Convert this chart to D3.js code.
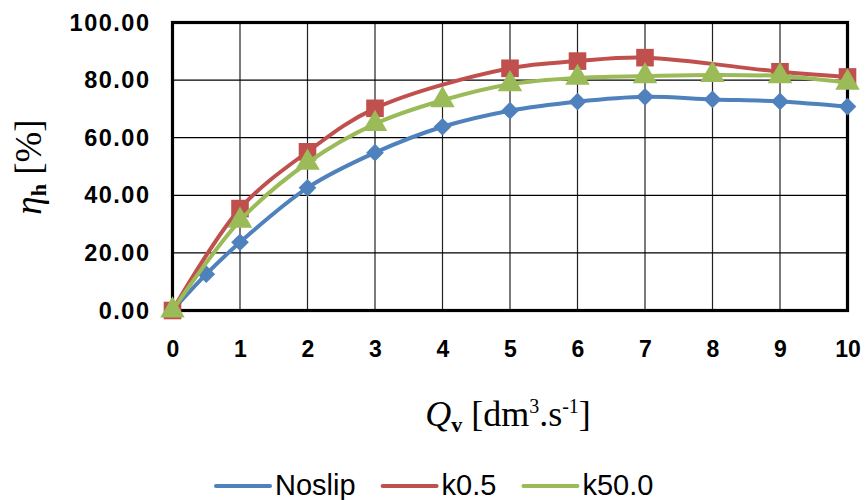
<!DOCTYPE html>
<html>
<head>
<meta charset="utf-8">
<script src="https://cdn.jsdelivr.net/npm/d3@7/dist/d3.min.js"></script>
<style>
  html, body { margin: 0; padding: 0; background: #fff; }
  svg { display: block; }
</style>
</head>
<body>
<svg id="chart" width="866" height="500"></svg>
<script>
// ---- data ----
const seriesNames = ["Noslip", "k0.5", "k50.0"];
const xNoslip = [0, 0.5, 1, 2, 3, 4, 5, 6, 7, 8, 9, 10];
const yNoslip = [0, 12.6, 23.7, 42.6, 54.8, 63.8, 69.4, 72.5, 74.2, 73.3, 72.6, 70.8];
const xK05 = [0, 1, 2, 3, 5, 6, 7, 9, 10];
const yK05 = [0, 35.4, 55.1, 70.2, 84.1, 86.6, 87.8, 82.9, 81.1];
const xK50 = [0, 1, 2, 3, 4, 5, 6, 7, 8, 9, 10];
const yK50 = [0, 31.2, 51.3, 64.8, 73.0, 78.6, 80.8, 81.4, 81.8, 81.4, 79.1];
const xTicks = [0, 1, 2, 3, 4, 5, 6, 7, 8, 9, 10];
const yTicks = [0, 20, 40, 60, 80, 100];

(function () {
const colors = ["#4F81BD", "#C0504D", "#9BBB59"];
const symbols = [d3.symbolDiamond2, d3.symbolSquare, d3.symbolTriangle];

const series = [
  { name: seriesNames[0], pts: xNoslip.map((v, i) => [v, yNoslip[i]]) },
  { name: seriesNames[1], pts: xK05.map((v, i) => [v, yK05[i]]) },
  { name: seriesNames[2], pts: xK50.map((v, i) => [v, yK50[i]]) }
];

// ---- layout ----
const svg = d3.select("#chart");
const pL = 172.5, pR = 847.5, pT = 22.5, pB = 310.5;
const x = d3.scaleLinear().domain([0, 10]).range([pL, pR]);
const y = d3.scaleLinear().domain([0, 100]).range([pB, pT]);

// gridlines
const grid = svg.append("g");
grid.selectAll("line.v").data(xTicks.slice(1, -1)).enter().append("line")
  .attr("x1", d => x(d)).attr("x2", d => x(d))
  .attr("y1", pT).attr("y2", pB)
  .attr("stroke", "#222").attr("stroke-width", 1.2);
grid.selectAll("line.h").data(yTicks.slice(1, -1)).enter().append("line")
  .attr("x1", pL).attr("x2", pR)
  .attr("y1", d => y(d)).attr("y2", d => y(d))
  .attr("stroke", "#000").attr("stroke-width", 1.2);

// axes with d3 axis (labels), hide domain/ticks
const yAxis = svg.append("g").attr("transform", `translate(${pL - 22},0)`)
  .call(d3.axisLeft(y).tickValues(yTicks).tickFormat(d3.format(".2f")).tickSize(0).tickPadding(0));
yAxis.select(".domain").remove();
yAxis.selectAll("text")
  .attr("font-family", "'Liberation Sans', Arial, sans-serif")
  .attr("font-weight", "bold").attr("font-size", 23.5)
  .attr("letter-spacing", 1.5)
  .attr("fill", "#000");

const xAxis = svg.append("g").attr("transform", `translate(0,${pB + 30})`)
  .call(d3.axisBottom(x).tickValues(xTicks).tickFormat(d3.format("d")).tickSize(0).tickPadding(0));
xAxis.select(".domain").remove();
xAxis.selectAll("text")
  .attr("font-family", "'Liberation Sans', Arial, sans-serif")
  .attr("font-weight", "bold").attr("font-size", 23)
  .attr("dy", "0.71em")
  .attr("fill", "#000");

// frame
svg.append("rect")
  .attr("x", pL).attr("y", pT)
  .attr("width", pR - pL).attr("height", pB - pT)
  .attr("fill", "none").attr("stroke", "#000").attr("stroke-width", 3.2);

// series
const line = d3.line().x(d => x(d[0])).y(d => y(d[1])).curve(d3.curveCatmullRom.alpha(0.5));
const markerSizes = [200, 310, 260];
series.forEach((s, i) => {
  const g = svg.append("g");
  g.append("path").datum(s.pts)
    .attr("d", line)
    .attr("fill", "none").attr("stroke", colors[i])
    .attr("stroke-width", 4).attr("stroke-linejoin", "round").attr("stroke-linecap", "round");
  g.selectAll("path.m").data(s.pts).enter().append("path")
    .attr("class", "m")
    .attr("transform", d => `translate(${x(d[0])},${y(d[1])})`)
    .attr("d", d3.symbol().type(symbols[i]).size(markerSizes[i]))
    .attr("fill", colors[i]);
});

// x axis title
const xt = svg.append("text")
  .attr("x", 508).attr("y", 426)
  .attr("text-anchor", "middle")
  .attr("font-family", "'Liberation Serif', 'Times New Roman', serif")
  .attr("font-size", 36).attr("fill", "#000");
xt.append("tspan").attr("font-style", "italic").text("Q");
xt.append("tspan").attr("font-weight", "bold").attr("font-size", 22).attr("dy", 6).text("v");
xt.append("tspan").attr("dy", -6).text(" [dm");
xt.append("tspan").attr("font-size", 20).attr("dy", -13).text("3");
xt.append("tspan").attr("dy", 13).text(".s");
xt.append("tspan").attr("font-size", 20).attr("dy", -13).text("-1");
xt.append("tspan").attr("dy", 13).text("]");

// y axis title
const yt = svg.append("text")
  .attr("transform", "translate(41,167) rotate(-90)")
  .attr("text-anchor", "middle")
  .attr("font-family", "'Liberation Serif', 'Times New Roman', serif")
  .attr("font-size", 37).attr("fill", "#000");
yt.append("tspan").attr("font-style", "italic").text("η");
yt.append("tspan").attr("font-weight", "bold").attr("font-size", 22).attr("dy", 5).text("h");
yt.append("tspan").attr("dy", -5).text(" [%]");

// legend
const legend = svg.append("g").attr("transform", "translate(216,495)");
let cx = 0;
series.forEach((s, i) => {
  const item = legend.append("g").attr("transform", `translate(${cx},0)`);
  item.append("line").attr("x1", 0).attr("x2", 54).attr("y1", -9).attr("y2", -9)
    .attr("stroke", colors[i]).attr("stroke-width", 4).attr("stroke-linecap", "round");
  const t = item.append("text").attr("x", 59).attr("y", 0)
    .attr("font-family", "'Liberation Sans', Arial, sans-serif")
    .attr("font-size", 29).attr("fill", "#000").text(s.name);
  cx += 59 + t.node().getComputedTextLength() + 27;
});
})();
</script>
</body>
</html>
